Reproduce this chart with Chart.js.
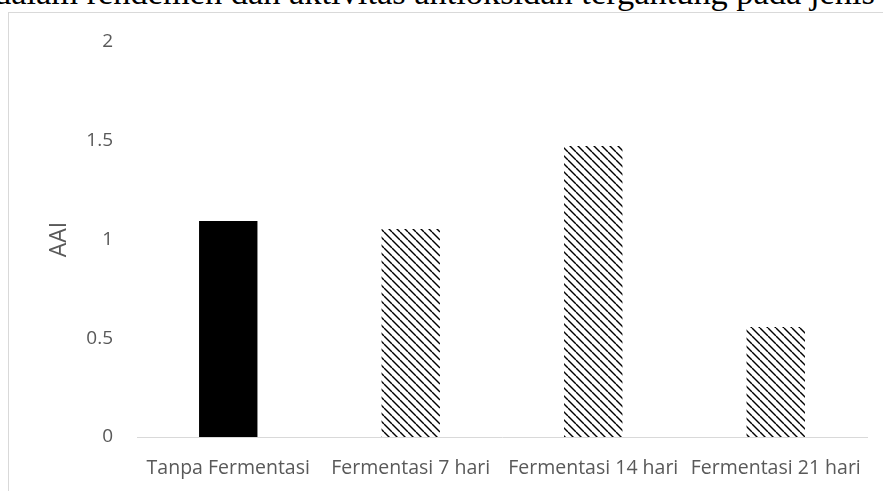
<!DOCTYPE html>
<html>
<head>
<meta charset="utf-8">
<script src="https://cdn.jsdelivr.net/npm/chart.js@4"></script>
<style>
  html, body { margin: 0; padding: 0; background: #fff; overflow: hidden; }
  body { width: 883px; height: 491px; position: relative; }
  #para {
    position: absolute; left: -6px; top: -27px; white-space: nowrap;
    font-family: "Liberation Serif", "DejaVu Serif", serif; font-size: 34.4px; color: #000;
  }
  #frame {
    position: absolute; left: 8px; top: 12px; width: 900px; height: 500px;
    border-left: 1px solid #d9d9d9; border-top: 1px solid #d9d9d9;
  }
  #wrap { position: absolute; left: 0; top: 0; width: 883px; height: 491px; }
</style>
</head>
<body>
<div id="para">dalam rendemen dan aktivitas antioksidan tergantung pada jenis</div>
<div id="frame"></div>
<div id="wrap"><canvas id="aaiChart"></canvas></div>
<script>
  // data
  const categories = ['Tanpa Fermentasi', 'Fermentasi 7 hari', 'Fermentasi 14 hari', 'Fermentasi 21 hari'];
  const aaiValues = [1.094, 1.053, 1.473, 0.557];
  const yTicks = [0, 0.5, 1, 1.5, 2];

  // hatch pattern for the fermented samples
  function makeHatch() {
    const c = document.createElement('canvas');
    c.width = 8; c.height = 8;
    const g = c.getContext('2d');
    g.strokeStyle = '#000';
    g.lineWidth = 1.4;
    [-8, 0, 8].forEach(k => {
      g.beginPath();
      g.moveTo(k, 0);
      g.lineTo(k + 8, 8);
      g.stroke();
    });
    return g.createPattern(c, 'repeat');
  }
  const hatch = makeHatch();
  const barColors = categories.map((_, i) => i === 0 ? '#000' : hatch);

  const family = '"Open Sans", "Noto Sans", sans-serif';

  new Chart(document.getElementById('aaiChart'), {
    type: 'bar',
    data: {
      labels: categories,
      datasets: [{
        label: 'AAI',
        data: aaiValues,
        backgroundColor: barColors,
        barPercentage: 0.32,
        categoryPercentage: 1
      }]
    },
    options: {
      responsive: true,
      maintainAspectRatio: false,
      animation: false,
      layout: { padding: { left: 46, right: 16, top: 42, bottom: 0 } },
      plugins: { legend: { display: false }, tooltip: { enabled: false } },
      scales: {
        x: {
          grid: { display: false },
          border: { display: true, color: '#d9d9d9', width: 1 },
          ticks: { color: '#595959', font: { family, size: 19.5 }, padding: 12, maxRotation: 0, autoSkip: false },
          afterFit: s => { s.height = 54; }
        },
        y: {
          min: 0, max: 2,
          afterBuildTicks: s => { s.ticks = yTicks.map(v => ({ value: v })); },
          grid: { display: false },
          border: { display: false },
          ticks: { color: '#595959', font: { family, size: 19 }, padding: 16, callback: v => String(v) },
          title: { display: true, text: 'AAI', color: '#595959', font: { family, size: 23 }, padding: 0 },
          afterFit: s => { s.width = 91; }
        }
      }
    }
  });
</script>
</body>
</html>
